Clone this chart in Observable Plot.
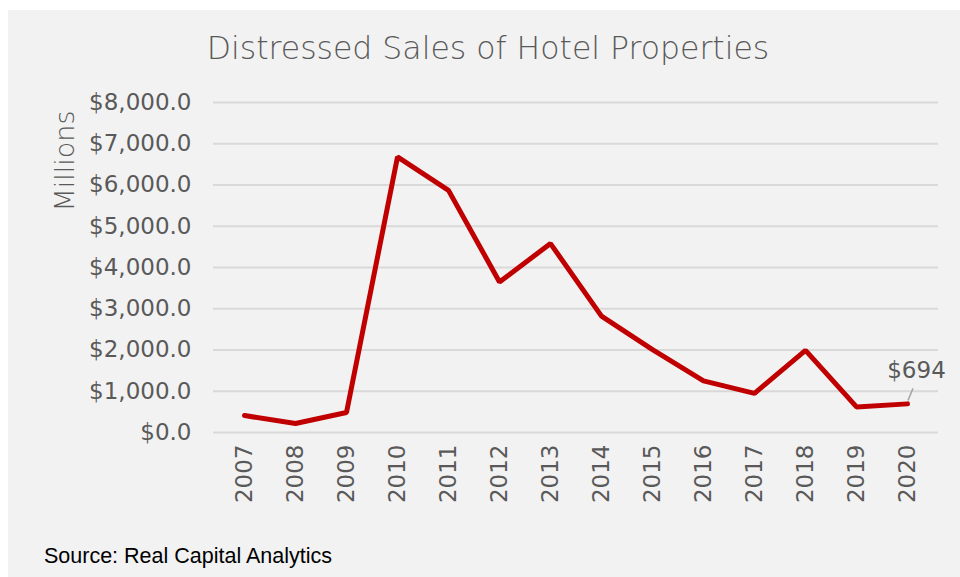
<!DOCTYPE html>
<html>
<head>
<meta charset="utf-8">
<script src="https://cdn.jsdelivr.net/npm/d3@7"></script>
<script src="https://cdn.jsdelivr.net/npm/@observablehq/plot@0.6"></script>
<style>
  html, body { margin: 0; padding: 0; background: #ffffff; }
  #wrap { position: relative; width: 960px; height: 577px; overflow: hidden; }
  #panel { position: absolute; left: 8px; top: 10px; width: 952px; height: 567px; background: #f2f2f2; }
  #title { position: absolute; left: 0; width: 976px; top: 29px; text-align: center;
           font-family: "DejaVu Sans", sans-serif; font-weight: 300; font-size: 31.5px; color: #595959; line-height: 38px; white-space: nowrap; }
  #ylabel { position: absolute; left: 64px; top: 161px; transform: translate(-50%, -50%) rotate(-90deg);
            font-family: "DejaVu Sans", sans-serif; font-weight: 300; font-size: 27px; color: #595959; white-space: nowrap; }
  #source { position: absolute; left: 44px; top: 543px; font-family: "Liberation Sans Narrow", "Liberation Sans", sans-serif;
            font-size: 21.5px; color: #000; line-height: 26px; white-space: nowrap; }
  #chart { position: absolute; left: 0; top: 0; }
</style>
</head>
<body>
<div id="wrap">
  <div id="panel"></div>
  <div id="title">Distressed Sales of Hotel Properties</div>
  <div id="ylabel">Millions</div>
  <div id="chart"></div>
  <div id="source">Source: Real Capital Analytics</div>
</div>
<script>
const years = ["2007","2008","2009","2010","2011","2012","2013","2014","2015","2016","2017","2018","2019","2020"];
const sales = [410, 218, 485, 6680, 5870, 3650, 4580, 2820, 2010, 1250, 950, 1990, 620, 694];
const yTicks = [0, 1000, 2000, 3000, 4000, 5000, 6000, 7000, 8000];
const annotatedYear = "2020";

const data = years.map((year, i) => ({year, sales: sales[i]}));
const fmt = d3.format(",.1f");

const plot = Plot.plot({
  width: 960,
  height: 577,
  marginTop: 102,
  marginBottom: 145,
  marginLeft: 213,
  marginRight: 22,
  style: {background: "transparent", fontFamily: "DejaVu Sans, sans-serif", fontSize: "23px", color: "#595959", overflow: "visible"},
  x: {type: "point", domain: years, padding: 0.5, label: null},
  y: {domain: [0, 8000], label: null},
  marks: [
    Plot.gridY(yTicks, {stroke: "#d9d9d9", strokeOpacity: 1, strokeWidth: 2}),
    Plot.axisY(yTicks, {tickSize: 0, tickPadding: 22, tickFormat: d => "$" + fmt(d), label: null, fill: "#595959"}),
    Plot.axisX(years, {tickSize: 0, tickRotate: -90, tickPadding: 12, label: null, fill: "#595959"}),
    Plot.line(data, {x: "year", y: "sales", stroke: "#c00000", strokeWidth: 5, strokeLinejoin: "miter", strokeLinecap: "round"}),
    Plot.text(data.filter(d => d.year === annotatedYear), {x: "year", y: "sales", text: d => "$" + d.sales, dx: 9, dy: -33, fill: "#595959", fontSize: 23})
  ]
});

// leader line for the annotation, positioned through the plot's scales
const sx = plot.scale("x"), sy = plot.scale("y");
const ann = data.find(d => d.year === annotatedYear);
const px = sx.apply(ann.year), py = sy.apply(ann.sales);
d3.select(plot).append("line")
  .attr("x1", px + 1).attr("y1", py - 3)
  .attr("x2", px + 6).attr("y2", py - 15)
  .attr("stroke", "#a6a6a6").attr("stroke-width", 1.5);

document.getElementById("chart").appendChild(plot);
</script>
</body>
</html>
